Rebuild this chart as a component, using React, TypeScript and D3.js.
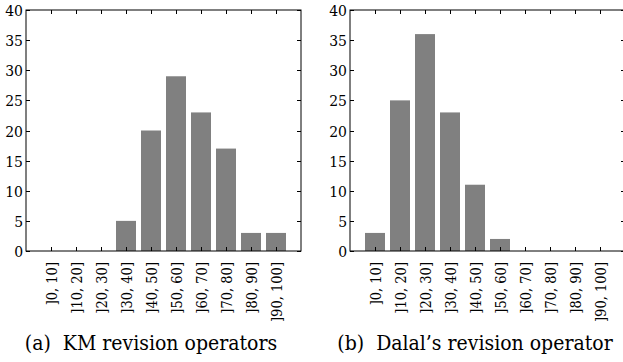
import React from "react";
import * as d3 from "d3";

// bins shared by both histograms
const bins = [
  "]0, 10]",
  "]10, 20]",
  "]20, 30]",
  "]30, 40]",
  "]40, 50]",
  "]50, 60]",
  "]60, 70]",
  "]70, 80]",
  "]80, 90]",
  "]90, 100]",
];

const kmValues = [0, 0, 0, 5, 20, 29, 23, 17, 3, 3];
const dalalValues = [3, 25, 36, 23, 11, 2, 0, 0, 0, 0];

const yTicks = [0, 5, 10, 15, 20, 25, 30, 35, 40];

const captions = ["(a)  KM revision operators", "(b)  Dalal\u2019s revision operator"];

const FONT = "'DejaVu Serif Condensed', 'DejaVu Serif', serif";

function Histogram(props: { values: number[]; left: number; caption: string }) {
  const { values, left, caption } = props;
  const top = 10;
  const bottom = 251;
  const width = 275;
  const tick = 4;

  // positions 1..10, xlim [0, 11] like a matlab bar plot
  const xScale = d3.scaleLinear().domain([0, bins.length + 1]).range([left, left + width]);
  const yScale = d3.scaleLinear().domain([0, 40]).range([bottom, top]);
  const barW = xScale(0.8) - xScale(0);

  return (
    <g fontFamily={FONT} style={{ fontStretch: "condensed" }}>
      {/* bars */}
      {values.map((v, i) => (
        <rect
          key={i}
          x={xScale(i + 1) - barW / 2}
          y={yScale(v)}
          width={barW}
          height={yScale(0) - yScale(v)}
          fill="#808080"
        />
      ))}

      {/* box */}
      <rect x={left} y={top} width={width} height={bottom - top} fill="none" stroke="#000" strokeWidth={1} />

      {/* x ticks, top and bottom, pointing inward */}
      {bins.map((b, i) => {
        const x = Math.round(xScale(i + 1)) + 0.5;
        return (
          <g key={b}>
            <line x1={x} x2={x} y1={bottom} y2={bottom - tick} stroke="#000" />
            <line x1={x} x2={x} y1={top} y2={top + tick} stroke="#000" />
            <text
              transform={`translate(${x},${bottom + 11}) rotate(-90)`}
              textAnchor="end"
              dy="0.35em"
              fontSize={14.5}
            >
              {b}
            </text>
          </g>
        );
      })}

      {/* y ticks on both sides */}
      {yTicks.map((t) => {
        const y = Math.round(yScale(t)) + 0.5;
        return (
          <g key={t}>
            <line x1={left} x2={left + tick} y1={y} y2={y} stroke="#000" />
            <line x1={left + width - tick} x2={left + width} y1={y} y2={y} stroke="#000" />
            <text x={left - 3} y={y} dy="0.36em" textAnchor="end" fontSize={15.5}>
              {t}
            </text>
          </g>
        );
      })}

      <text x={left + 125} y={350} textAnchor="middle" fontSize={21} style={{ whiteSpace: "pre" }}>
        {caption}
      </text>
    </g>
  );
}

export default function App() {
  return (
    <svg width={623} height={362} style={{ position: "absolute", left: 0, top: 0, background: "#fff" }}>
      <rect width={623} height={362} fill="#fff" />
      <Histogram values={kmValues} left={26} caption={captions[0]} />
      <Histogram values={dalalValues} left={350} caption={captions[1]} />
    </svg>
  );
}
